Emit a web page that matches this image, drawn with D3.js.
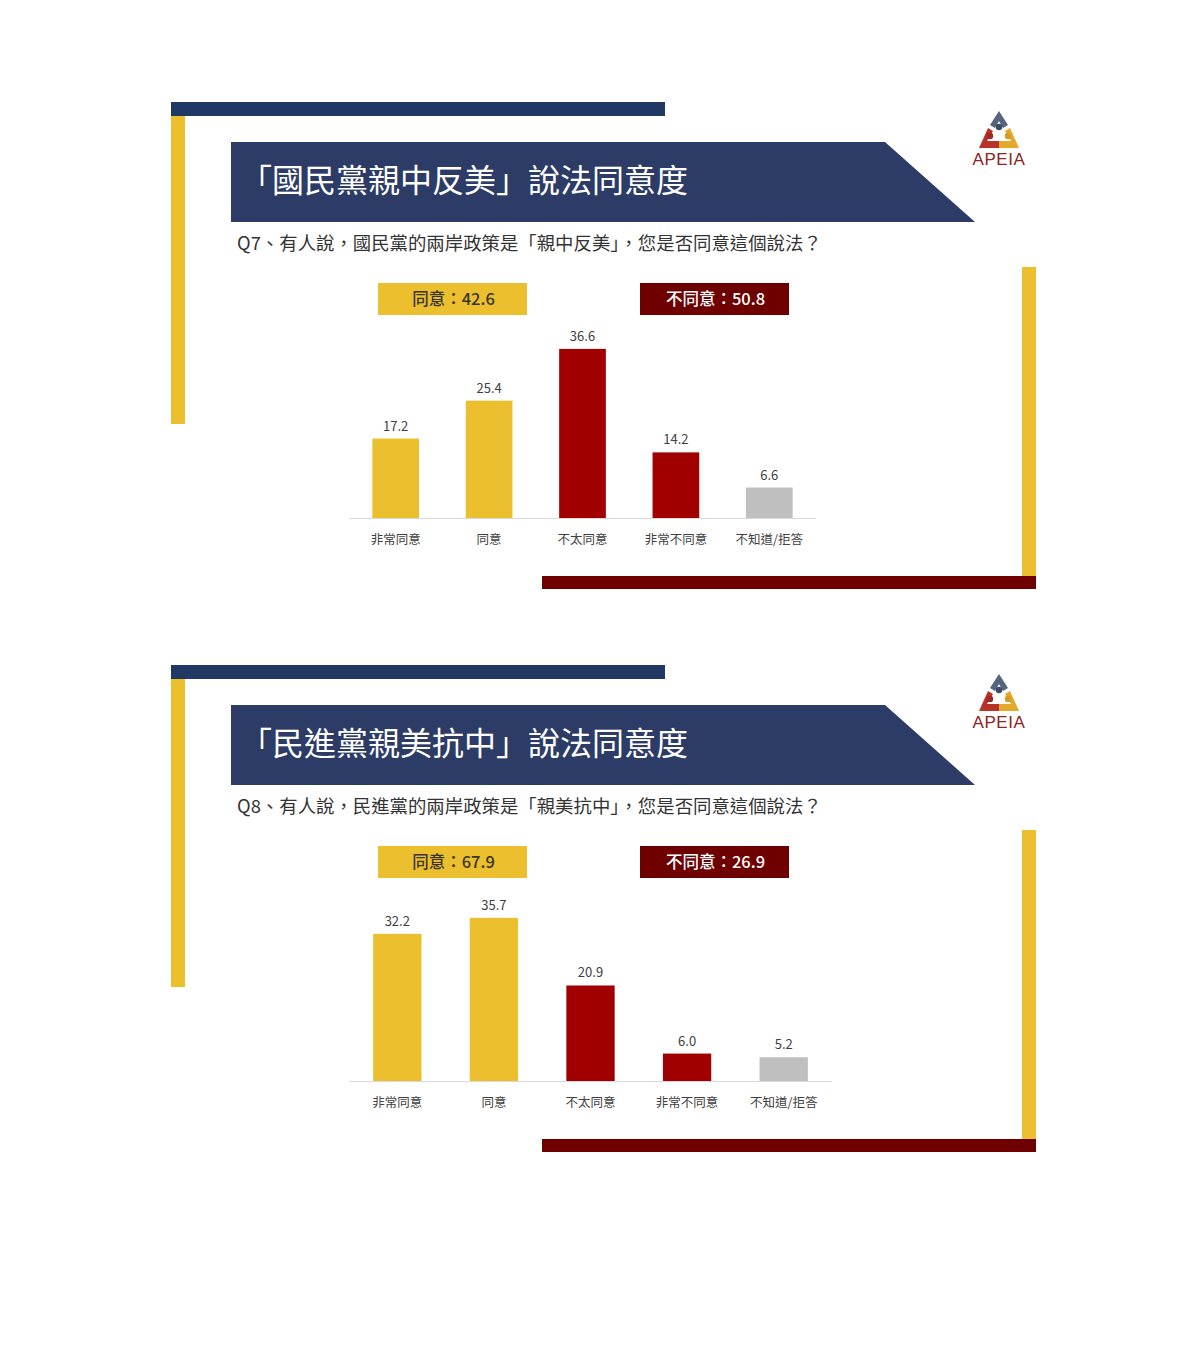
<!DOCTYPE html>
<html>
<head>
<meta charset="utf-8">
<script src="https://cdn.jsdelivr.net/npm/d3@7"></script>
<style>
  html, body { margin: 0; padding: 0; background: #ffffff; }
  svg { display: block; }
</style>
</head>
<body>
<div id="chart"></div>
<script>
// ---------------- DATA ----------------
const categories = ["非常同意", "同意", "不太同意", "非常不同意", "不知道/拒答"];
const categoryGroups = ["agree", "agree", "disagree", "disagree", "unknown"];

const q7Title = "「國民黨親中反美」說法同意度";
const q7Question = "Q7、有人說，國民黨的兩岸政策是「親中反美」，您是否同意這個說法？";
const q7Values = [17.2, 25.4, 36.6, 14.2, 6.6];
const q7Summary = [42.6, 50.8];

const q8Title = "「民進黨親美抗中」說法同意度";
const q8Question = "Q8、有人說，民進黨的兩岸政策是「親美抗中」，您是否同意這個說法？";
const q8Values = [32.2, 35.7, 20.9, 6.0, 5.2];
const q8Summary = [67.9, 26.9];

const summaryLabels = ["同意", "不同意"];
const logoText = "APEIA";

// ---------------- STYLE ----------------
const W = 1197, H = 1361;
const colors = {
  agree: "#ebbf2e",
  disagree: "#a00000",
  unknown: "#bfbfbf",
  navyBar: "#1f3864",
  banner: "#2c3c67",
  darkRed: "#6e0000",
  yellowStripe: "#ebbf2e",
  axis: "#d9d9d9",
  text: "#333333",
  label: "#404040"
};
const cjk = "'Noto Sans CJK TC', 'Noto Sans CJK SC', 'Noto Sans', sans-serif";

const svg = d3.select("#chart").append("svg")
  .attr("width", W).attr("height", H)
  .attr("viewBox", `0 0 ${W} ${H}`);
svg.append("rect").attr("width", W).attr("height", H).attr("fill", "#fff");

function drawLogo(g) {
  const lg = g.append("g");
  lg.append("path")
    .attr("d", "M999,111 L1008,125 L1003,128 L999,121 L995,128 L990,125 Z")
    .attr("fill", "#55657f");
  lg.append("path")
    .attr("d", "M988,128 L993,131 L987,141 L999,141 L999,148 L979,148 Z")
    .attr("fill", "#b8322a");
  lg.append("path")
    .attr("d", "M1010,128 L1019,148 L999,148 L999,141 L1011,141 L1005,131 Z")
    .attr("fill", "#e3a92a");
  lg.append("circle").attr("cx", 999).attr("cy", 127).attr("r", 3.2).attr("fill", "#3d4a63");
  lg.append("circle").attr("cx", 990).attr("cy", 136).attr("r", 3.2).attr("fill", "#9a2a22");
  lg.append("circle").attr("cx", 1008).attr("cy", 136).attr("r", 3.2).attr("fill", "#d99b22");
  g.append("text")
    .attr("x", 999).attr("y", 165)
    .attr("text-anchor", "middle")
    .attr("font-family", "'Liberation Sans', 'DejaVu Sans', sans-serif")
    .attr("font-size", 17)
    .attr("letter-spacing", 0.6)
    .attr("fill", "#8e2320")
    .text(logoText);
}

function drawPanel(offsetY, title, question, values, summary, xRange, yPixels) {
  const g = svg.append("g").attr("transform", `translate(0,${offsetY})`);

  // decorative frame
  g.append("rect").attr("x", 171).attr("y", 102).attr("width", 494).attr("height", 14).attr("fill", colors.navyBar);
  g.append("rect").attr("x", 171).attr("y", 116).attr("width", 14).attr("height", 308).attr("fill", colors.yellowStripe);
  g.append("rect").attr("x", 1022).attr("y", 267).attr("width", 14).attr("height", 309).attr("fill", colors.yellowStripe);
  g.append("rect").attr("x", 542).attr("y", 576).attr("width", 494).attr("height", 13).attr("fill", colors.darkRed);

  // title banner
  g.append("path")
    .attr("d", "M231,142 L885,142 L975,222 L231,222 Z")
    .attr("fill", colors.banner);
  g.append("text")
    .attr("x", 240).attr("y", 192)
    .attr("font-family", cjk).attr("font-size", 32).attr("font-weight", 400)
    .attr("fill", "#ffffff")
    .text(title);

  drawLogo(g);

  // question
  g.append("text")
    .attr("x", 237).attr("y", 250)
    .attr("font-family", cjk).attr("font-size", 18.4)
    .attr("fill", colors.text)
    .text(question);

  // summary boxes
  const boxes = [
    { x: 378, fill: colors.agree, color: "#3b3520", label: summaryLabels[0], v: summary[0] },
    { x: 640, fill: colors.darkRed, color: "#ffffff", label: summaryLabels[1], v: summary[1] }
  ];
  boxes.forEach(b => {
    g.append("rect").attr("x", b.x).attr("y", 283).attr("width", 149).attr("height", 32).attr("fill", b.fill);
    g.append("text")
      .attr("x", b.x + 75.5).attr("y", 299).attr("dy", "0.36em")
      .attr("text-anchor", "middle")
      .attr("font-family", cjk).attr("font-size", 16.5).attr("font-weight", 500)
      .attr("fill", b.color)
      .text(`${b.label}：${b.v.toFixed(1)}`);
  });

  // chart
  const baseY = 518;
  const x = d3.scaleBand().domain(categories).range(xRange).paddingInner(0.5).paddingOuter(0.25);
  const y = d3.scaleLinear().domain([0, 40]).range([baseY, baseY - yPixels]);

  g.selectAll("rect.bar")
    .data(values)
    .join("rect")
    .attr("class", "bar")
    .attr("x", (d, i) => x(categories[i]))
    .attr("y", d => y(d))
    .attr("width", x.bandwidth())
    .attr("height", d => y(0) - y(d))
    .attr("fill", (d, i) => colors[categoryGroups[i]]);

  g.selectAll("text.val")
    .data(values)
    .join("text")
    .attr("class", "val")
    .attr("x", (d, i) => x(categories[i]) + x.bandwidth() / 2)
    .attr("y", d => y(d) - 8)
    .attr("text-anchor", "middle")
    .attr("font-family", cjk).attr("font-size", 13)
    .attr("fill", colors.label)
    .text(d => d.toFixed(1));

  const axis = g.append("g")
    .attr("transform", `translate(0,${baseY})`)
    .call(d3.axisBottom(x).tickSize(0).tickPadding(17));
  axis.select(".domain").attr("stroke", colors.axis).attr("stroke-width", 1.2)
    .attr("d", `M${xRange[0]},0.5H${xRange[1]}`);
  axis.selectAll(".tick text")
    .attr("font-family", cjk).attr("font-size", 12.5)
    .attr("fill", colors.label);
}

drawPanel(0, q7Title, q7Question, q7Values, q7Summary, [349, 816], 184.8);
drawPanel(563, q8Title, q8Question, q8Values, q8Summary, [349, 832], 182.8);
</script>
</body>
</html>
